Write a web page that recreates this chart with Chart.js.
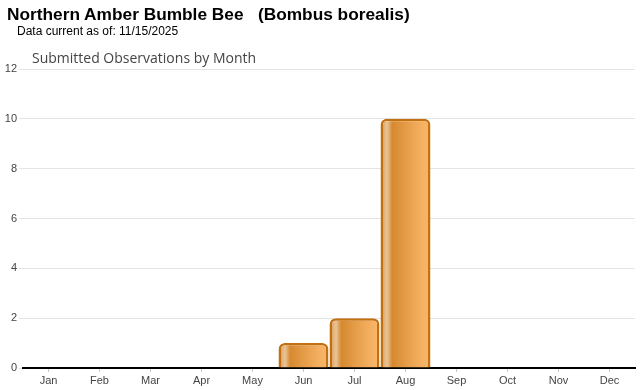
<!DOCTYPE html>
<html><head><meta charset="utf-8">
<script src="https://cdn.jsdelivr.net/npm/chart.js@4/dist/chart.umd.min.js"></script>
<style>
html,body{margin:0;padding:0;background:#fff;}
#wrap{position:relative;width:640px;height:390px;}
canvas{position:absolute;left:0;top:0;}
.t{position:absolute;white-space:pre;color:#000;}
#h1{left:7px;top:4px;font:bold 17.3px "Liberation Sans",Arial,sans-serif;}
#h2{left:17px;top:24px;font:12px "Liberation Sans",Arial,sans-serif;}
#h3{left:32px;top:48px;font:14px "Open Sans",sans-serif;color:#444;}
</style></head><body>
<div id="wrap">
<canvas id="c" width="640" height="390"></canvas>
<div class="t" id="h1">Northern Amber Bumble Bee   (Bombus borealis)</div>
<div class="t" id="h2">Data current as of: 11/15/2025</div>
<div class="t" id="h3">Submitted Observations by Month</div>
</div>
<script>
const months = ['Jan','Feb','Mar','Apr','May','Jun','Jul','Aug','Sep','Oct','Nov','Dec'];
const observations = [0,0,0,0,0,1,2,10,0,0,0,0];
const yTicks = [0,2,4,6,8,10,12];

function barFill(ctx){
  const chart = ctx.chart;
  if(!chart.chartArea || !chart.scales.x) return '#e09a48';
  const xs = chart.scales.x;
  const cx = xs.getPixelForValue(ctx.dataIndex);
  const w = (chart.chartArea.right - chart.chartArea.left)/months.length;
  const l = cx - w/2, r = cx + w/2;
  const g = chart.ctx.createLinearGradient(l,0,r,0);
  g.addColorStop(0,'#c8741c');
  g.addColorStop(0.08,'#e2b27a');
  g.addColorStop(0.14,'#e8c496');
  g.addColorStop(0.24,'#d6892f');
  g.addColorStop(0.5,'#e49c48');
  g.addColorStop(0.85,'#f6b264');
  g.addColorStop(1,'#f8b668');
  return g;
}

new Chart(document.getElementById('c'),{
  type:'bar',
  data:{labels:months,datasets:[{data:observations,backgroundColor:barFill,borderColor:'#c27010',borderWidth:2.5,borderRadius:6,barPercentage:0.98,categoryPercentage:1}]},
  options:{
    responsive:false,animation:false,
    layout:{padding:{top:69,right:5,left:0,bottom:0}},
    plugins:{legend:{display:false},tooltip:{enabled:false},title:{display:false}},
    scales:{
      x:{
        grid:{drawOnChartArea:false,offset:false,tickLength:4,color:'#c8c8c8'},
        border:{color:'#000',width:2},
        ticks:{font:{family:'"Liberation Sans",Arial',size:11},color:'#444',padding:2},
        afterFit(s){s.height=22;}
      },
      y:{
        min:0,max:12,
        afterBuildTicks(s){s.ticks=yTicks.map(v=>({value:v}));},
        grid:{color:'#e4e4e4',tickLength:4},
        border:{display:false},
        ticks:{font:{family:'"Liberation Sans",Arial',size:11},color:'#444',padding:2},
        afterFit(s){s.width=23;}
      }
    }
  }
});
</script>
</body></html>
